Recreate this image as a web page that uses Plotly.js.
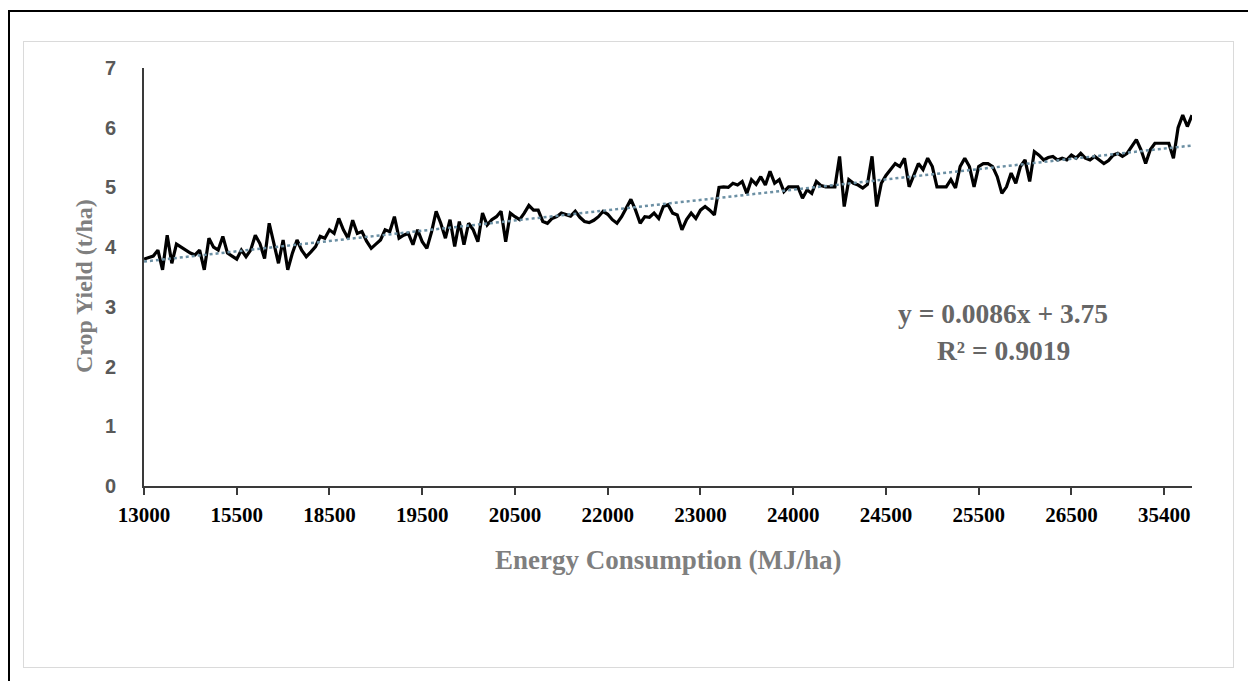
<!DOCTYPE html>
<html>
<head>
<meta charset="utf-8">
<script src="https://cdn.plot.ly/plotly-3.0.1.min.js"></script>
<style>
  html, body { margin: 0; padding: 0; background: #ffffff; }
  #wrap { position: relative; width: 1248px; height: 681px; overflow: hidden; background: #fff; }
  #outer { position: absolute; left: 8px; top: 10px; width: 1260px; height: 700px;
           border-left: 2.5px solid #000; border-top: 2.5px solid #000; box-sizing: border-box; }
  #inner { position: absolute; left: 23px; top: 41px; width: 1211px; height: 627px;
           border: 1.5px solid #dadada; box-sizing: border-box; }
  #chart { position: absolute; left: 0; top: 0; width: 1248px; height: 681px; }
</style>
</head>
<body>
<div id="wrap">
  <div id="outer"></div>
  <div id="inner"></div>
  <div id="chart"></div>
</div>
<script>
// ---- data ----
const tickLabels = ['13000','15500','18500','19500','20500','22000','23000','24000','24500','25500','26500','35400'];
const labelStep = 20;   // one label every 20 categories

const cropYield = [
  3.80, 3.82, 3.85, 3.95, 3.62, 4.20, 3.73, 4.05, 4.00, 3.95,
  3.90, 3.87, 3.95, 3.62, 4.15, 4.00, 3.95, 4.18, 3.90, 3.85,
  3.80, 3.95, 3.84, 3.95, 4.20, 4.06, 3.81, 4.40, 4.05, 3.73,
  4.12, 3.62, 3.90, 4.12, 3.95, 3.84, 3.92, 4.01, 4.18, 4.15,
  4.29, 4.23, 4.48, 4.29, 4.15, 4.45, 4.23, 4.26, 4.10, 3.98,
  4.05, 4.12, 4.29, 4.26, 4.51, 4.15, 4.20, 4.23, 4.04, 4.29,
  4.09, 3.98, 4.25, 4.60, 4.40, 4.15, 4.46, 4.01, 4.43, 4.04,
  4.40, 4.29, 4.09, 4.57, 4.37, 4.46, 4.51, 4.60, 4.09, 4.57,
  4.51, 4.46, 4.57, 4.70, 4.62, 4.62, 4.43, 4.40, 4.48, 4.51,
  4.57, 4.55, 4.52, 4.60, 4.50, 4.43, 4.41, 4.45, 4.51, 4.60,
  4.55, 4.46, 4.40, 4.51, 4.65, 4.80, 4.62, 4.40, 4.51, 4.50,
  4.57, 4.48, 4.68, 4.71, 4.57, 4.54, 4.29, 4.46, 4.57, 4.48,
  4.62, 4.68, 4.62, 4.54, 5.00, 5.01, 5.00, 5.07, 5.04, 5.10,
  4.90, 5.13, 5.05, 5.18, 5.04, 5.27, 5.07, 5.13, 4.93, 5.01,
  5.01, 5.01, 4.82, 4.96, 4.90, 5.10, 5.03, 5.01, 5.01, 5.01,
  5.52, 4.68, 5.13, 5.07, 5.04, 4.99, 5.05, 5.52, 4.68, 5.07,
  5.20, 5.29, 5.40, 5.35, 5.49, 5.01, 5.21, 5.40, 5.30, 5.49,
  5.35, 5.01, 5.01, 5.01, 5.13, 4.99, 5.35, 5.49, 5.35, 5.01,
  5.35, 5.40, 5.40, 5.35, 5.18, 4.90, 5.01, 5.24, 5.07, 5.35,
  5.46, 5.10, 5.60, 5.54, 5.46, 5.50, 5.52, 5.46, 5.49, 5.46,
  5.54, 5.49, 5.57, 5.49, 5.46, 5.52, 5.46, 5.40, 5.45, 5.54,
  5.57, 5.52, 5.57, 5.68, 5.80, 5.63, 5.40, 5.63, 5.74, 5.74,
  5.74, 5.74, 5.49, 6.00, 6.21, 6.02, 6.21
];

// linear trendline as printed on the chart
const trendSlope = 0.0086;
const trendIntercept = 3.75;
const equationText = 'y = 0.0086x + 3.75';
const r2Text = 'R² = 0.9019';

// ---- build ----
const idx = cropYield.map((_, i) => i);
const trend = idx.map(i => trendIntercept + trendSlope * (i + 1));
const tickVals = tickLabels.map((_, k) => k * labelStep);

const L = 144, R = 1191.7, T = 68, B = 486;
const W = R - L, H = B - T;
const px = x => (x - L) / W;
const py = y => (B - y) / H;

const serif = 'Liberation Serif, Times New Roman, serif';
const sans = 'Liberation Sans, Arial, sans-serif';

const traces = [
  { x: idx, y: cropYield, type: 'scatter', mode: 'lines',
    line: { color: '#000000', width: 3.2 }, hoverinfo: 'skip', showlegend: false },
  { x: idx, y: trend, type: 'scatter', mode: 'lines',
    line: { color: '#6b8fa3', width: 2.5, dash: 'dot' }, hoverinfo: 'skip', showlegend: false }
];

const layout = {
  width: 1248, height: 681,
  margin: { l: L, r: 1248 - R, t: T, b: 681 - B, pad: 0 },
  paper_bgcolor: 'rgba(0,0,0,0)', plot_bgcolor: 'rgba(0,0,0,0)',
  showlegend: false,
  xaxis: {
    range: [0, cropYield.length - 1],
    tickmode: 'array', tickvals: tickVals, ticktext: tickLabels,
    showgrid: false, zeroline: false,
    showline: true, linecolor: '#3a3a3a', linewidth: 2,
    ticks: 'outside', ticklen: 7, tickwidth: 2, tickcolor: '#3a3a3a',
    tickfont: { family: serif, size: 21, color: '#000000', weight: 'bold' },
    ticklabelstandoff: 2,
    fixedrange: true
  },
  yaxis: {
    range: [0, 7], dtick: 1, tick0: 0,
    showgrid: false, zeroline: false,
    showline: true, linecolor: '#3a3a3a', linewidth: 2,
    ticks: '',
    tickfont: { family: sans, size: 20, color: '#595959', weight: 'bold' },
    ticklabelstandoff: 22,
    fixedrange: true
  },
  annotations: [
    { xref: 'paper', yref: 'paper', x: px(668), y: py(560), xanchor: 'center', yanchor: 'middle',
      text: 'Energy Consumption (MJ/ha)', showarrow: false,
      font: { family: serif, size: 27, color: '#7f7f7f', weight: 'bold' } },
    { xref: 'paper', yref: 'paper', x: px(84), y: py(286), xanchor: 'center', yanchor: 'middle',
      text: 'Crop Yield (t/ha)', showarrow: false, textangle: -90,
      font: { family: serif, size: 24, color: '#7f7f7f', weight: 'bold' } },
    { xref: 'paper', yref: 'paper', x: px(1003), y: py(313), xanchor: 'center', yanchor: 'middle',
      text: equationText, showarrow: false,
      font: { family: serif, size: 27.5, color: '#666666', weight: 'bold' } },
    { xref: 'paper', yref: 'paper', x: px(1003), y: py(350), xanchor: 'center', yanchor: 'middle',
      text: r2Text, showarrow: false,
      font: { family: serif, size: 27.5, color: '#666666', weight: 'bold' } }
  ]
};

Plotly.newPlot('chart', traces, layout, { staticPlot: true, displayModeBar: false });
</script>
</body>
</html>
